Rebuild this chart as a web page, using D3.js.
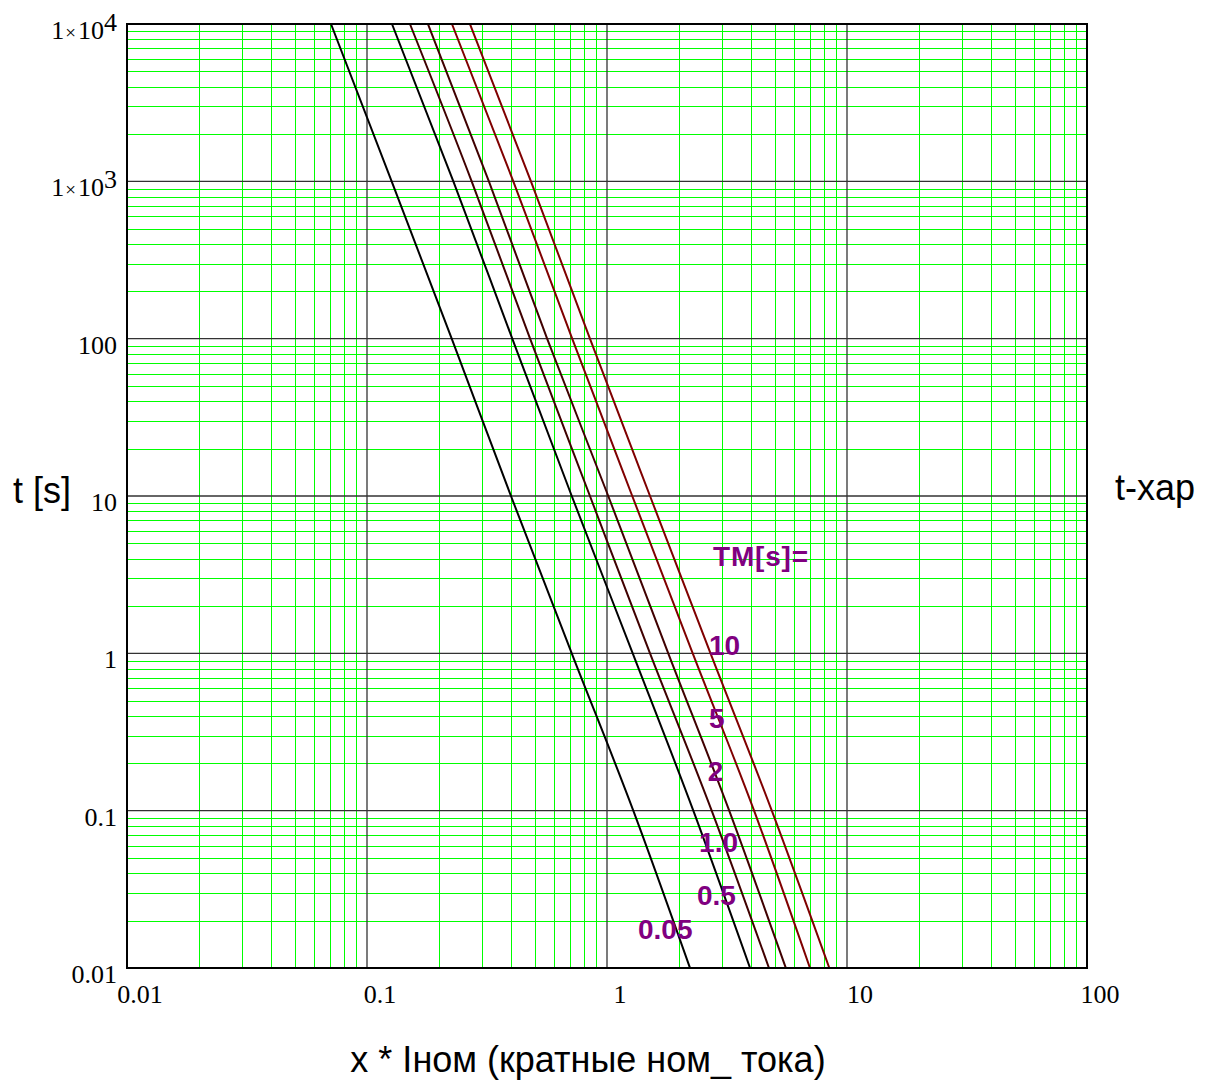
<!DOCTYPE html>
<html>
<head>
<meta charset="utf-8">
<script src="https://cdn.jsdelivr.net/npm/d3@7"></script>
<style>
  body { margin: 0; background: #fff; }
  svg { display: block; }
</style>
</head>
<body>
<div id="output"></div>
<script>
const tLevels = [1e4, 1e3, 100, 10, 1, 0.1, 0.01];

// Current multiple x at each time level, one array per TM curve
const xTM005 = [0.0708, 0.1267, 0.2254, 0.398, 0.713, 1.287, 2.217];
const xTM05  = [0.1271, 0.229, 0.403, 0.713, 1.280, 2.289, 3.945];
const xTM10  = [0.151, 0.273, 0.478, 0.849, 1.511, 2.73, 4.73];
const xTM2   = [0.1795, 0.322, 0.563, 1.012, 1.80, 3.23, 5.56];
const xTM5   = [0.226, 0.407, 0.716, 1.274, 2.276, 4.10, 7.01];
const xTM10s = [0.2685, 0.482, 0.849, 1.511, 2.70, 4.86, 8.44];

const curveNames  = ["0.05", "0.5", "1.0", "2", "5", "10"];
const curveX      = [xTM005, xTM05, xTM10, xTM2, xTM5, xTM10s];
const curveColors = ["#000000", "#000000", "#400000", "#400000", "#800000", "#800000"];

// Annotation text and where it sits (data coords, left / baseline)
const noteText = ["TM[s]=", "10", "5", "2", "1.0", "0.5", "0.05"];
const noteX    = [2.765, 2.66, 2.66, 2.63, 2.42, 2.37, 1.346];
const noteT    = [3.6, 0.98, 0.337, 0.155, 0.0548, 0.0252, 0.0153];

// Axis ticks
const xTicks = [0.01, 0.1, 1, 10, 100];
const xTickLabels = ["0.01", "0.1", "1", "10", "100"];
const yTicks = [0.01, 0.1, 1, 10, 100, 1e3, 1e4];
const yTickLabels = ["0.01", "0.1", "1", "10", "100", "1x10^3", "1x10^4"];

function PlotGraph(parent_element = "output") {
  const margin = {top: 24, right: 123, bottom: 114, left: 127};
  const width = 1210 - margin.left - margin.right;
  const height = 1082 - margin.top - margin.bottom;

  const x = d3.scaleLog().domain([0.01, 100]).range([0, width]);
  const y = d3.scaleLog().domain([0.01, 1e4]).range([height, 0]);
  const px = v => Math.round(v) + 0.5;  // snap grid lines to pixel centres

  const svg = d3.select("#" + parent_element).append("svg")
    .attr("width", 1210)
    .attr("height", 1082)
    .append("g")
    .attr("transform", `translate(${margin.left},${margin.top})`);

  // Minor grid (2..9 in each decade)
  const minorX = [], minorY = [];
  for (let d = -2; d < 2; d++) for (let k = 2; k <= 9; k++) minorX.push(k * Math.pow(10, d));
  for (let d = -2; d < 4; d++) for (let k = 2; k <= 9; k++) minorY.push(k * Math.pow(10, d));

  svg.append("g").selectAll("line")
    .data(minorX).enter().append("line")
    .attr("x1", d => px(x(d))).attr("x2", d => px(x(d)))
    .attr("y1", 0).attr("y2", height)
    .attr("stroke", "#00ff00").attr("stroke-width", 1);

  svg.append("g").selectAll("line")
    .data(minorY).enter().append("line")
    .attr("y1", d => px(y(d))).attr("y2", d => px(y(d)))
    .attr("x1", 0).attr("x2", width)
    .attr("stroke", "#00ff00").attr("stroke-width", 1);

  // Major grid
  svg.append("g").selectAll("line")
    .data(xTicks.slice(1, -1)).enter().append("line")
    .attr("x1", d => x(d)).attr("x2", d => x(d))
    .attr("y1", 0).attr("y2", height)
    .attr("stroke", "#333").attr("stroke-width", 1.3);

  svg.append("g").selectAll("line")
    .data(yTicks.slice(1, -1)).enter().append("line")
    .attr("y1", d => y(d)).attr("y2", d => y(d))
    .attr("x1", 0).attr("x2", width)
    .attr("stroke", "#333").attr("stroke-width", 1.3);

  // Curves
  const line = d3.line()
    .x(d => x(d[0]))
    .y(d => y(d[1]))
    .curve(d3.curveMonotoneX);

  curveX.forEach((xs, i) => {
    const pts = xs.map((v, j) => [v, tLevels[j]]);
    svg.append("path")
      .datum(pts)
      .attr("d", line)
      .attr("fill", "none")
      .attr("stroke", curveColors[i])
      .attr("stroke-width", 2);
  });

  // Curve annotations
  svg.append("g").selectAll("text")
    .data(noteText).enter().append("text")
    .attr("x", (d, i) => x(noteX[i]))
    .attr("y", (d, i) => y(noteT[i]))
    .attr("font-family", "Liberation Sans, Arial, sans-serif")
    .attr("font-weight", "bold")
    .attr("font-size", 28)
    .attr("letter-spacing", (d, i) => i === 0 ? 0.8 : 0)
    .attr("fill", "#800080")
    .text(d => d);

  // Frame
  svg.append("rect")
    .attr("width", width).attr("height", height)
    .attr("fill", "none")
    .attr("stroke", "#000").attr("stroke-width", 2);

  // X tick labels
  svg.append("g").selectAll("text")
    .data(xTicks).enter().append("text")
    .attr("x", d => x(d) + 13)
    .attr("y", height + 35)
    .attr("text-anchor", "middle")
    .attr("font-family", "Liberation Serif, Times New Roman, serif")
    .attr("font-size", 26)
    .text((d, i) => xTickLabels[i]);

  // Y tick labels
  const yLab = svg.append("g").selectAll("text")
    .data(yTicks).enter().append("text")
    .attr("x", -10)
    .attr("y", d => y(d) + 15)
    .attr("text-anchor", "end")
    .attr("font-family", "Liberation Serif, Times New Roman, serif")
    .attr("font-size", 26);

  yLab.each(function(d, i) {
    const s = yTickLabels[i];
    const el = d3.select(this);
    if (s.indexOf("^") < 0) { el.text(s); return; }
    const exp = s.split("^")[1];
    el.append("tspan").text("1");
    el.append("tspan").attr("font-size", 19).attr("dx", 1).text("\u00d7");
    el.append("tspan").attr("dx", 2).text("10");
    el.append("tspan").attr("dy", -8).text(exp);
  });

  // Axis titles
  svg.append("text")
    .attr("x", 13 - margin.left)
    .attr("y", 503 - margin.top)
    .attr("font-family", "Liberation Sans, Arial, sans-serif")
    .attr("font-size", 36)
    .text("t [s]");

  svg.append("text")
    .attr("x", 1115 - margin.left)
    .attr("y", 500 - margin.top)
    .attr("font-family", "Liberation Sans, Arial, sans-serif")
    .attr("font-size", 36)
    .text("t-xap");

  svg.append("text")
    .attr("x", 588 - margin.left)
    .attr("y", 1072 - margin.top)
    .attr("text-anchor", "middle")
    .attr("font-family", "Liberation Sans, Arial, sans-serif")
    .attr("font-size", 36)
    .text("x * Iном (кратные ном_ тока)");
}

document.addEventListener('DOMContentLoaded', (event) => {
  PlotGraph();
});
</script>
</body>
</html>
